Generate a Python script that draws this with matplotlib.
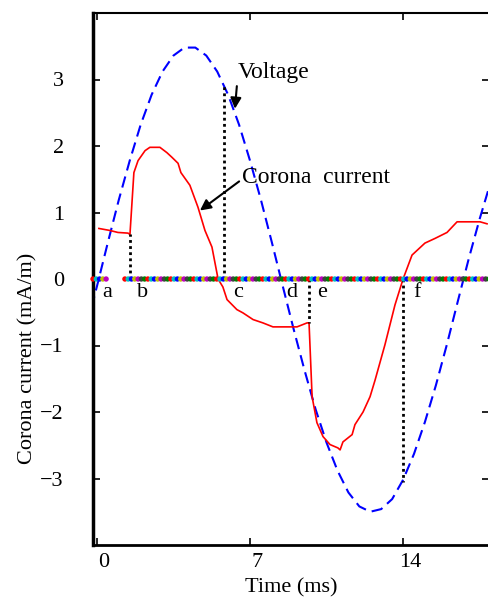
import numpy as np
import matplotlib
matplotlib.use("Agg")
import matplotlib.pyplot as plt
import matplotlib.transforms as mtransforms

plt.rcParams['font.family'] = ['Liberation Serif', 'DejaVu Serif']

#------------------------------------------------------------------------------------------
# Values (time in ms)
#------------------------------------------------------------------------------------------

voltage_t = [-0.25, 0.0, 0.5, 1.0, 1.5, 2.0, 2.5, 3.0, 3.5, 4.0, 4.5, 5.0, 5.5, 6.0,
             6.5, 7.0, 7.5, 8.0, 8.5, 9.0, 9.5, 10.0, 10.5, 11.0, 11.5, 12.0, 12.5,
             13.0, 13.5, 14.0, 14.5, 15.0, 15.5, 16.0, 16.5, 17.0, 17.5, 18.0]
voltage_v = [-0.43, -0.11, 0.55, 1.19, 1.78, 2.32, 2.77, 3.12, 3.36, 3.48, 3.48, 3.36,
             3.12, 2.77, 2.32, 1.78, 1.19, 0.55, -0.11, -0.76, -1.38, -1.96, -2.46,
             -2.88, -3.21, -3.42, -3.50, -3.46, -3.31, -3.02, -2.63, -2.15, -1.60,
             -0.99, -0.34, 0.30, 0.90, 1.45]

current_t = [0.09, 0.59, 0.96, 1.42, 1.51, 1.69, 1.88, 2.20, 2.42, 2.88, 3.20, 3.43,
             3.71, 3.84, 4.25, 4.62, 4.94, 5.26, 5.54, 5.76, 5.95, 6.40, 6.68, 7.14,
             7.59, 8.05, 9.15, 9.61, 9.70, 9.84, 10.06, 10.34, 10.66, 11.02, 11.12,
             11.25, 11.67, 11.80, 12.17, 12.49, 12.72, 13.17, 13.63, 14.00, 14.41,
             15.00, 15.46, 16.01, 16.47, 17.52, 17.84]
current_v = [0.76, 0.73, 0.70, 0.69, 0.67, 1.60, 1.78, 1.93, 1.98, 1.98, 1.90, 1.83,
             1.74, 1.60, 1.41, 1.08, 0.73, 0.48, 0.00, -0.12, -0.31, -0.46, -0.51,
             -0.61, -0.66, -0.72, -0.72, -0.66, -0.66, -1.77, -2.16, -2.37, -2.49,
             -2.54, -2.57, -2.45, -2.34, -2.19, -2.00, -1.77, -1.52, -0.99, -0.39,
             0.00, 0.36, 0.54, 0.61, 0.70, 0.86, 0.86, 0.83]

# dotted markers from the axis up/down to the curves
event_t = [1.50, 5.81, 9.70, 14.00]
event_v = [0.67, 2.92, -0.66, -3.05]

# point labels below the time axis
letters = ['a', 'b', 'c', 'd', 'e', 'f']
letter_t = [0.46, 2.10, 6.45, 8.92, 10.29, 14.64]

# multicoloured sample dots along zero
dot_ranges = [(-0.18, 0.55), (1.28, 17.95)]
dot_step = 0.15
dot_colors = ['r', 'c', 'b', 'y', 'm', '#404040', 'g']

xticks = [0, 7, 14]
yticks = [-3, -2, -1, 0, 1, 2, 3]

#------------------------------------------------------------------------------------------

fig = plt.figure(figsize=(4.89, 6.01), dpi=100)
ax = fig.add_axes([93 / 489, 56 / 601, 1 - 93 / 489, 532 / 601])

ax.plot(voltage_t, voltage_v, color='b', lw=1.5, dashes=(5.5, 3), zorder=2)
ax.plot(current_t, current_v, color='r', lw=1.2, zorder=2)

ax.vlines(event_t, 0, event_v, colors='k', linestyles=(0, (1, 1.2)), lw=2, zorder=2)

for lo, hi in dot_ranges:
    tt = np.arange(lo, hi, dot_step)
    cc = [dot_colors[i % len(dot_colors)] for i in range(len(tt))]
    ax.scatter(tt, np.zeros_like(tt), s=15, c=cc, linewidths=0, zorder=3, clip_on=False)

for lab, t in zip(letters, letter_t):
    ax.text(t, -0.2, lab, fontsize=16, ha='center', va='center')

ax.annotate('Voltage', xy=(6.31, 2.56), xytext=(6.45, 3.1), fontsize=17,
            ha='left', va='center',
            arrowprops=dict(arrowstyle='-|>', color='k', lw=1.5, mutation_scale=16,
                            shrinkA=0, shrinkB=0, relpos=(0, 0.5)))
ax.annotate('Corona  current', xy=(4.71, 1.03), xytext=(6.63, 1.53), fontsize=17,
            ha='left', va='center',
            arrowprops=dict(arrowstyle='-|>', color='k', lw=1.5, mutation_scale=16,
                            shrinkA=0, shrinkB=0, relpos=(0, 0.4)))

ax.set_xlim(-0.18, 17.93)
ax.set_ylim(-4, 4)
ax.set_xticks(xticks)
ax.set_yticks(yticks)
ax.set_yticklabels(['\u22123', '\u22122', '\u22121', '0', '1', '2', '3'])

ax.spines['left'].set_linewidth(2.5)
ax.spines['bottom'].set_linewidth(2)
ax.spines['top'].set_linewidth(1.5)
ax.spines['right'].set_visible(False)
ax.tick_params(direction='in', length=5, width=1.2, top=True, right=True, labelsize=16)
ax.tick_params(axis='y', pad=21)
ax.tick_params(axis='x', pad=6)

offset = mtransforms.ScaledTranslation(7 / 100, 0, fig.dpi_scale_trans)
for lbl in ax.get_xticklabels():
    lbl.set_transform(lbl.get_transform() + offset)

ax.set_xlabel('Time (ms)', fontsize=16, labelpad=4)
ax.set_ylabel('Corona current (mA/m)', fontsize=16)
ax.yaxis.set_label_coords(-0.14, 0.35)

fig.savefig('out.png', dpi=100)
